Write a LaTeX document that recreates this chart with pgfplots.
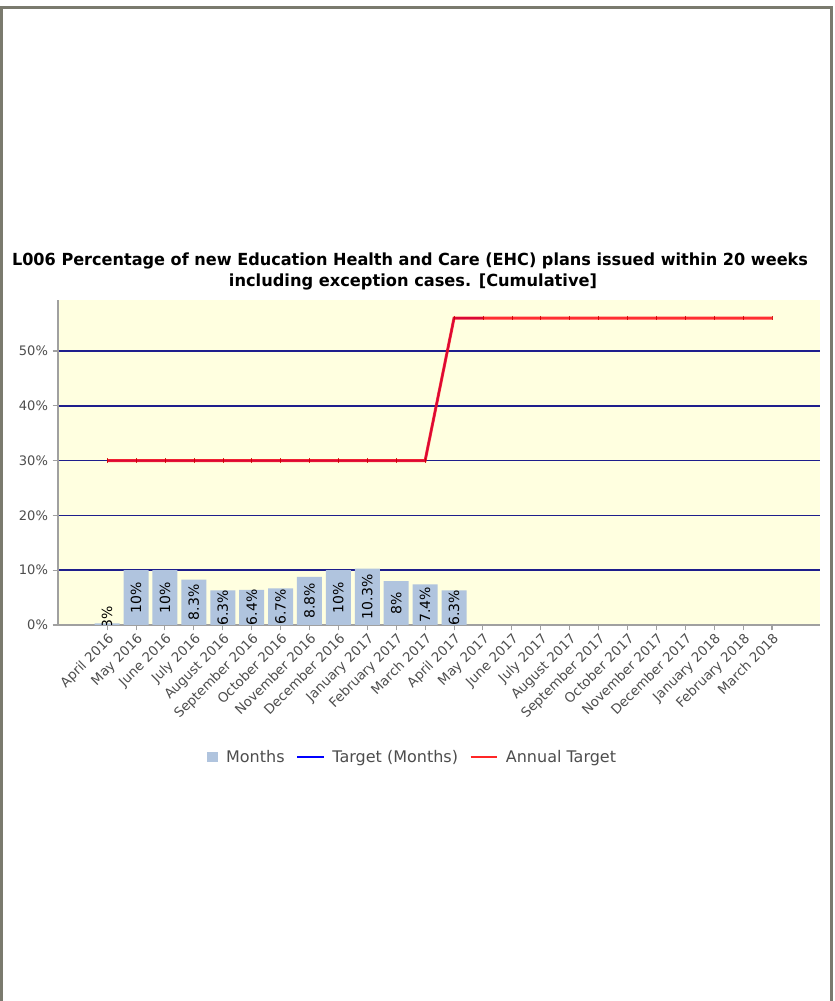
\documentclass[border=0pt]{standalone}
\usepackage{graphicx}
\usepackage{pgfplots}
\usepackage{pgfplotstable}
\pgfplotsset{compat=1.18}
\usepackage{fontspec}
\setmainfont{DejaVu Sans}
\definecolor{barblue}{HTML}{B0C4DE}
\definecolor{gridnavy}{HTML}{1E1E8C}
\definecolor{bgyellow}{HTML}{FFFFE0}
\definecolor{framegray}{HTML}{7A7A6E}
\definecolor{ticktext}{HTML}{4D4D4D}
\definecolor{axisgray}{HTML}{A0A0A0}
\definecolor{annred}{HTML}{FF0A14}

\pgfplotstableread{
x y
0 0.3
1 10
2 10
3 8.3
4 6.3
5 6.4
6 6.7
7 8.8
8 10
9 10.3
10 8
11 7.4
12 6.3
}\monthsdata

\pgfplotstableread{
x y
0 30
1 30
2 30
3 30
4 30
5 30
6 30
7 30
8 30
9 30
10 30
11 30
12 56
13 56
}\targetdata

\pgfplotstableread{
x y
0 30
1 30
2 30
3 30
4 30
5 30
6 30
7 30
8 30
9 30
10 30
11 30
12 56
13 56
14 56
15 56
16 56
17 56
18 56
19 56
20 56
21 56
22 56
23 56
}\annualdata

\begin{document}
\begin{tikzpicture}[x=1pt,y=1pt]
\useasboundingbox (0,0) rectangle (626.25,750.75);
\draw[framegray, line width=2.25pt] (1.125,0) -- (1.125,744.75) -- (623.6,744.75) -- (623.6,0);
\node[inner sep=0pt] at (307.5,555) {\resizebox{597pt}{\height}{\fontsize{12.5}{14}\selectfont\bfseries L006 Percentage of new Education Health and Care (EHC) plans issued within 20 weeks}};
\node[inner sep=0pt] at (309.75,539.25) {\resizebox{276pt}{\height}{\fontsize{12.5}{14}\selectfont\bfseries including exception cases. [Cumulative]}};
\begin{axis}[
  at={(43.5pt,282pt)}, anchor=south west, scale only axis,
  width=571.5pt, height=243.75pt,
  xmin=-1.7, xmax=24.66, ymin=0, ymax=59.3,
  /pgf/number format/assume math mode=true,
  axis x line*=bottom, axis y line*=left,
  axis line style={axisgray, line width=1.1pt, -},
  axis background/.style={fill=bgyellow},
  xtick={0,...,23},
  xticklabels={April 2016, May 2016, June 2016, July 2016, August 2016, September 2016, October 2016, November 2016, December 2016, January 2017, February 2017, March 2017, April 2017, May 2017, June 2017, July 2017, August 2017, September 2017, October 2017, November 2017, December 2017, January 2018, February 2018, March 2018},
  x tick label style={rotate=45, anchor=north east, font=\fontsize{10}{12}\selectfont, text=ticktext, inner sep=1pt},
  ytick={0,10,20,30,40,50},
  yticklabels={0\%,10\%,20\%,30\%,40\%,50\%},
  y tick label style={font=\fontsize{9.8}{12}\selectfont, text=ticktext},
  tick style={axisgray, line width=0.8pt},
  tick align=outside, major tick length=4pt,
  ymajorgrids, grid style={gridnavy, line width=1.1pt},
  clip marker paths=true,
  legend style={at={(0.466,-0.406)}, anchor=center, draw=none, fill=none,
    font=\fontsize{12}{14}\selectfont, text=ticktext,
    /tikz/every odd column/.append style={column sep=4pt},
    /tikz/every even column/.append style={column sep=7pt}},
  legend columns=3,
]
\addplot[ybar, bar width=18.75pt, fill=barblue, draw=none,
  visualization depends on={y \as \rawy},
  nodes near coords={\pgfmathprintnumber{\pgfplotspointmeta}\%},
  nodes near coords style={shift={(axis direction cs:0,-\rawy/2)}, rotate=90, anchor=center, font=\fontsize{10.5}{12}\selectfont, text=black},
  legend image code/.code={\fill[barblue] (0pt,-4pt) rectangle (8pt,4pt);}
] table[x=x,y=y] {\monthsdata};
\addlegendentry{Months}
\addplot[blue, line width=1.4pt, mark=none,
  legend image code/.code={\draw[blue, line width=0.9pt] (0pt,0pt) -- (20pt,0pt);}
] table[x=x,y=y] {\targetdata};
\addlegendentry{Target (Months)}
\addplot[annred, opacity=0.85, line width=2.2pt, mark=|, mark size=1.6pt,
  mark options={draw=red!80!black, line width=0.4pt},
  legend image code/.code={\draw[red, line width=0.9pt] (0pt,0pt) -- (20pt,0pt);}
] table[x=x,y=y] {\annualdata};
\addlegendentry{Annual Target}
\end{axis}
\end{tikzpicture}
\end{document}
